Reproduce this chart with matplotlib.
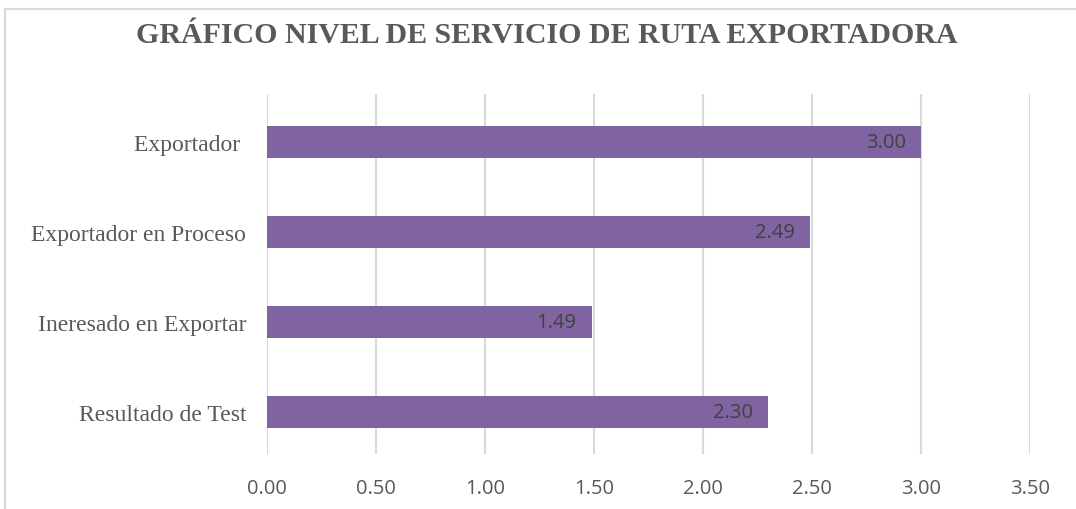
import matplotlib.pyplot as plt
from matplotlib.patches import Rectangle

# data
categorias = ['Exportador ', 'Exportador en Proceso', 'Ineresado en Exportar', 'Resultado de Test']
valores = [3.00, 2.49, 1.49, 2.30]
ticks = [0.0, 0.5, 1.0, 1.5, 2.0, 2.5, 3.0, 3.5]

color_barra = '#8064A2'
gris = '#595959'

fig = plt.figure(figsize=(10.76, 5.10), dpi=100)
ax = fig.add_axes([0.2481, 0.1078, 0.7091, 0.7059])

# marco del grafico (recortado a la derecha y abajo)
fig.patches.append(Rectangle((0.0046, -0.05), 1.1, 1.0304, transform=fig.transFigure,
                             fill=False, edgecolor='#D9D9D9', linewidth=1.5))

pos = list(range(len(categorias)))[::-1]
ax.barh(pos, valores, height=0.355, color=color_barra, zorder=3)

for y, v in zip(pos, valores):
    ax.annotate(f'{v:.2f}', xy=(v, y), xytext=(-11, 0), textcoords='offset points',
                ha='right', va='center', fontsize=14.5, color='#404040',
                family='Open Sans', zorder=4)

ax.set_xlim(0, 3.5)
ax.set_ylim(-0.47, 3.53)
ax.set_xticks(ticks)
ax.set_xticklabels([f'{t:.2f}' for t in ticks], family='Open Sans', fontsize=14.5, color=gris)
ax.set_yticks(pos)
ax.set_yticklabels(categorias, family='Liberation Serif', fontsize=17, color=gris)
ax.tick_params(axis='both', length=0)
ax.tick_params(axis='x', pad=17.5)
ax.tick_params(axis='y', pad=15)

ax.grid(axis='x', color='#D9D9D9', linewidth=1.5, zorder=0)
for s in ax.spines.values():
    s.set_visible(False)

fig.text(0.508, 0.93, 'GRÁFICO NIVEL DE SERVICIO DE RUTA EXPORTADORA', ha='center', va='center',
         family='Liberation Serif', fontweight='bold', fontsize=21.5, color=gris)

fig.savefig('out.png', dpi=100)
